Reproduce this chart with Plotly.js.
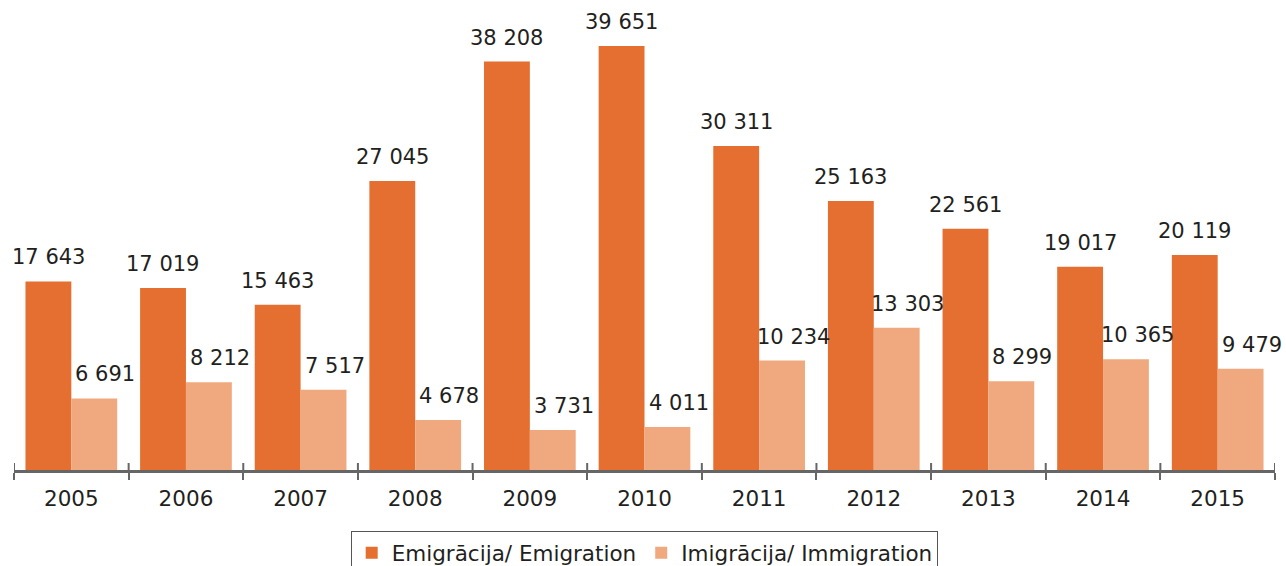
<!DOCTYPE html>
<html>
<head>
<meta charset="utf-8">
<script src="https://cdn.plot.ly/plotly-3.0.1.min.js"></script>
<style>html,body{margin:0;padding:0;background:#fff;}#chart{width:1286px;height:566px;}</style>
</head>
<body>
<div id="chart"></div>
<script>
const years = ['2005','2006','2007','2008','2009','2010','2011','2012','2013','2014','2015'];
const emigration = [17643, 17019, 15463, 27045, 38208, 39651, 30311, 25163, 22561, 19017, 20119];
const immigration = [6691, 8212, 7517, 4678, 3731, 4011, 10234, 13303, 8299, 10365, 9479];
const seriesNames = ['Emigrācija/ Emigration', 'Imigrācija/ Immigration'];

const colEmig = '#E46F30';
const colImig = '#F0A97E';
const font = 'DejaVu Sans, Verdana, sans-serif';
const fmt = v => String(v).replace(/\B(?=(\d{3})+(?!\d))/g, ' ');

const traces = [
  {type:'bar', name:seriesNames[0], x:years, y:emigration, marker:{color:colEmig}, hoverinfo:'none'},
  {type:'bar', name:seriesNames[1], x:years, y:immigration, marker:{color:colImig}, hoverinfo:'none'}
];

// category axis: annotation x is the category's serial number
const annotations = [];
years.forEach((yr,i)=>{
  annotations.push({x:i, y:emigration[i], xref:'x', yref:'y', text:fmt(emigration[i]), showarrow:false,
    xanchor:'center', yanchor:'middle', xshift:-23, yshift:24, font:{family:font, size:21, color:'#231F20'}});
  annotations.push({x:i, y:immigration[i], xref:'x', yref:'y', text:fmt(immigration[i]), showarrow:false,
    xanchor:'center', yanchor:'middle', xshift:34, yshift:24, font:{family:font, size:21, color:'#231F20'}});
});

// inner halves of the boundary ticks, at category boundaries
const shapes = years.map((_, i) => i - 0.5).concat([years.length - 0.5]).map(b => ({
  type:'line', xref:'x', yref:'y', x0:b, x1:b, ysizemode:'pixel', yanchor:0, y0:0, y1:7,
  line:{color:'#666', width:2}
}));

const layout = {
  width:1286, height:566,
  margin:{l:14, r:11, t:21, b:96, autoexpand:false},
  paper_bgcolor:'#fff', plot_bgcolor:'#fff',
  barmode:'group', bargap:0.2, bargroupgap:0,
  font:{family:font, size:20, color:'#231F20'},
  showlegend:true,
  legend:{orientation:'h', x:0.5, xanchor:'center', y:-0.136, yanchor:'top',
    bordercolor:'#555', borderwidth:1.2, font:{family:font, size:21.5, color:'#231F20'},
    traceorder:'normal'},
  xaxis:{type:'category', showline:true, linecolor:'#666', linewidth:2.5,
    ticks:'outside', ticklen:7, tickwidth:2, tickcolor:'#666', tickson:'boundaries',
    range:[-0.5, years.length - 0.5], ticklabelstandoff:8,
    tickfont:{family:font, size:21.5, color:'#231F20'}, showgrid:false, zeroline:false, fixedrange:true},
  yaxis:{range:[0,42000], visible:false, showgrid:false, zeroline:false, fixedrange:true},
  shapes:shapes,
  annotations:annotations
};

Plotly.newPlot('chart', traces, layout, {displayModeBar:false, staticPlot:true});
</script>
</body>
</html>
